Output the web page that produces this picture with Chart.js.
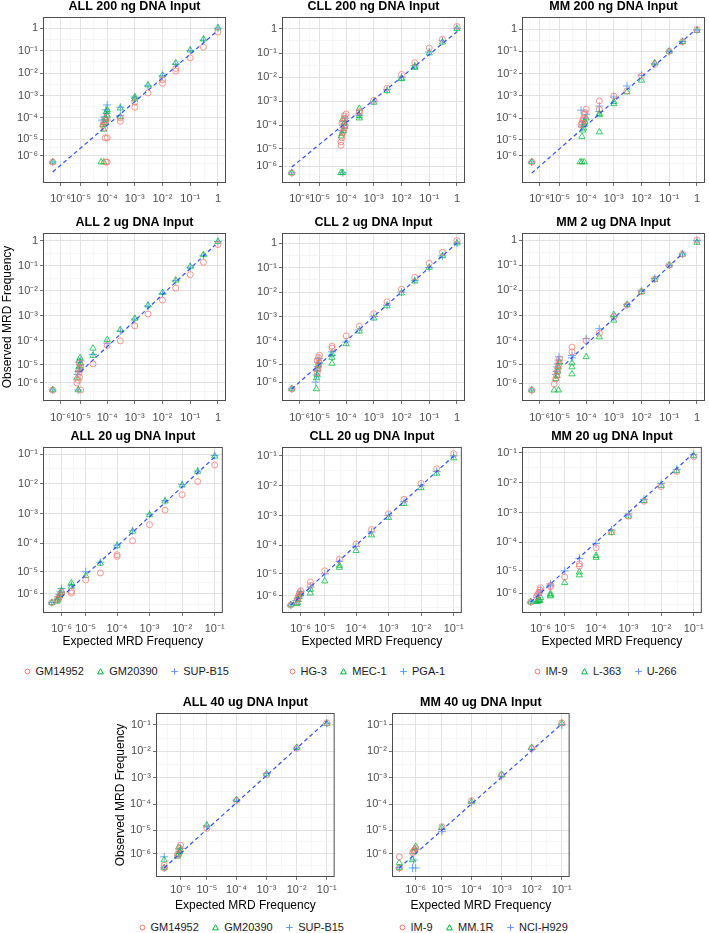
<!DOCTYPE html>
<html>
<head>
<meta charset="utf-8">
<script src="https://cdn.jsdelivr.net/npm/chart.js@4.4.1/dist/chart.umd.min.js"></script>
<style>
  body { margin: 0; width: 709px; height: 933px; position: relative; overflow: hidden; background: #fff;
         font-family: "Liberation Sans", Arial, sans-serif; }
  canvas { position: absolute; }
  .legend { position: absolute; display: flex; align-items: center; height: 14px; font-size: 11px; color: #1a1a1a; white-space: nowrap; }
  .legend .item { display: flex; align-items: center; margin-right: 13.5px; }
  .legend svg { width: 7px; height: 7px; }
  .legend span { margin-left: 5px; }
</style>
</head>
<body>
<script>
// ---- data: [expected, observed] pairs per cell line ----
const all200Red = [[0,0],[9e-5,0],[1e-4,0],[7e-5,4.5e-5],[8e-5,3.5e-5],[8.5e-5,6e-5],[9e-5,8e-5],[9.5e-5,1.1e-4],[8.5e-5,1.2e-5],[1e-4,1.2e-5],[3e-4,1e-4],[3e-4,7e-5],[1e-3,5e-4],[1e-3,3e-4],[3e-3,1.3e-3],[1e-2,5e-3],[1e-2,3.5e-3],[3e-2,1.6e-2],[3e-2,1.2e-2],[0.1,0.047],[0.3,0.14],[1,0.66]];
const all200Green = [[0,0],[6e-5,0],[7.5e-5,0],[7e-5,5e-5],[8e-5,6e-5],[8.5e-5,1e-4],[9e-5,8e-5],[9.5e-5,1.9e-4],[1e-4,2.3e-4],[1e-4,1.3e-4],[7.5e-5,3e-5],[3e-4,2.7e-4],[3e-4,1.1e-4],[1e-3,8.5e-4],[1e-3,7e-4],[3e-3,2.9e-3],[1e-2,8e-3],[3e-2,2.8e-2],[0.1,0.105],[0.3,0.32],[1,1.0]];
const all200Blue = [[0,0],[6.5e-5,8e-5],[7.5e-5,6.5e-5],[8e-5,1.1e-4],[9e-5,2.3e-4],[9.5e-5,1.6e-4],[1e-4,3.8e-4],[1e-4,8e-5],[3e-4,3e-4],[3e-4,1.3e-4],[1e-3,8.5e-4],[3e-3,2.7e-3],[1e-2,7.5e-3],[3e-2,2.5e-2],[0.1,0.1],[0.3,0.29],[1,1.0]];
const all200Fit = [[0,-7e-7],[0.85,0.66]];

const cll200Red = [[0,0],[6.5e-5,1.4e-5],[6.5e-5,2e-5],[7e-5,3e-5],[7.5e-5,5e-5],[8e-5,6e-5],[8.5e-5,8e-5],[9e-5,1e-4],[7e-5,1.2e-4],[8e-5,1.5e-4],[9e-5,2e-4],[8.5e-5,2.5e-4],[1e-4,3e-4],[3e-4,3.5e-4],[3e-4,4e-4],[1e-3,1.1e-3],[3e-3,3.5e-3],[1e-2,1.3e-2],[3e-2,4e-2],[0.1,0.16],[0.3,0.37],[1,1.25]];
const cll200Green = [[0,0],[6.5e-5,0],[7.5e-5,0],[6.5e-5,3.5e-5],[7e-5,4.5e-5],[8e-5,6e-5],[9e-5,9e-5],[8.5e-5,1.2e-4],[7.5e-5,1.8e-4],[3e-4,5e-4],[3e-4,2.5e-4],[3e-4,2e-4],[1e-3,9e-4],[3e-3,2.7e-3],[1e-2,9e-3],[1e-2,8.5e-3],[3e-2,2.8e-2],[3e-2,2.5e-2],[0.1,0.1],[0.3,0.28],[1,1.0]];
const cll200Blue = [[0,0],[7.5e-5,0],[7e-5,6e-5],[8e-5,8e-5],[8.5e-5,1.1e-4],[9e-5,1.5e-4],[9.5e-5,2e-4],[3e-4,3e-4],[3e-4,2.6e-4],[1e-3,1e-3],[3e-3,3e-3],[1e-2,1e-2],[3e-2,3e-2],[0.1,0.11],[0.3,0.32],[1,1.05]];
const cll200Fit = [[0,8e-7],[1,0.76]];

const mm200Red = [[0,0],[6.5e-5,5e-5],[7e-5,6e-5],[7.5e-5,8e-5],[8e-5,1e-4],[8.5e-5,1.5e-4],[9e-5,1.8e-4],[1e-4,2.5e-4],[3e-4,6e-4],[3e-4,2.5e-4],[1e-3,1e-3],[3e-3,1.7e-3],[1e-2,8e-3],[3e-2,2.6e-2],[0.1,0.1],[0.3,0.27],[1,0.95]];
const mm200Green = [[0,0],[6e-5,0],[7e-5,0],[8.5e-5,0],[7e-5,1.4e-5],[7.5e-5,2.8e-5],[8e-5,3.5e-5],[8.5e-5,5e-5],[9e-5,7e-5],[1e-4,1e-4],[3e-4,2.3e-5],[3e-4,1.6e-4],[3e-4,1.4e-4],[1e-3,4.4e-4],[1e-3,5.5e-4],[3e-3,1.5e-3],[1e-2,5e-3],[3e-2,3e-2],[0.1,0.1],[0.3,0.27],[1,0.85]];
const mm200Blue = [[0,0],[6.5e-5,2.3e-4],[7e-5,4e-5],[7.5e-5,5e-5],[8e-5,7e-5],[9e-5,1e-4],[1e-4,1.5e-4],[3e-4,3.5e-4],[3e-4,2e-4],[1e-3,9e-4],[3e-3,2.8e-3],[1e-2,8.5e-3],[3e-2,2.8e-2],[0.1,0.1],[0.3,0.28],[1,0.9]];
const mm200Fit = [[0,-7.5e-7],[0.78,0.81]];

const all2Red = [[0,0],[1e-5,0],[7e-6,1e-6],[8e-6,1.6e-6],[9e-6,2.5e-6],[8.5e-6,4e-6],[9.5e-6,6e-6],[1e-5,8e-6],[9e-6,1.2e-5],[3e-5,1.1e-5],[1e-4,6.5e-5],[3e-4,1e-4],[1e-3,4e-4],[3e-3,1.2e-3],[1e-2,4.3e-3],[3e-2,1.3e-2],[0.1,0.045],[0.3,0.14],[1,0.72]];
const all2Green = [[0,0],[8e-6,0],[7e-6,2.2e-6],[8e-6,6e-6],[9e-6,9e-6],[1e-5,1.2e-5],[8.5e-6,1.5e-5],[9.5e-6,2e-5],[3e-5,5e-5],[3e-5,2.5e-5],[1e-4,1.1e-4],[3e-4,2.8e-4],[1e-3,8e-4],[3e-3,2.7e-3],[1e-2,8.5e-3],[3e-2,2.7e-2],[0.1,0.095],[0.3,0.28],[1,0.95]];
const all2Blue = [[0,0],[8e-6,0],[7.5e-6,3.5e-6],[8.5e-6,5e-6],[9e-6,7e-6],[9.5e-6,1e-5],[1e-5,1.5e-5],[3e-5,2.8e-5],[1e-4,8e-5],[3e-4,2.5e-4],[1e-3,7.5e-4],[3e-3,2.5e-3],[1e-2,8e-3],[3e-2,2.6e-2],[0.1,0.09],[0.3,0.27],[1,0.95]];
const all2Fit = [[1e-5,4.8e-6],[0.8,0.7]];

const cll2Red = [[0,0],[8e-6,4e-6],[8.5e-6,6e-6],[9e-6,9e-6],[9.5e-6,1.2e-5],[8e-6,1.5e-5],[9e-6,2e-5],[1e-5,2.5e-5],[3e-5,6e-5],[3e-5,5e-5],[1e-4,1.6e-4],[3e-4,4e-4],[1e-3,1.3e-3],[3e-3,4e-3],[1e-2,1.3e-2],[3e-2,4e-2],[0.1,0.15],[0.3,0.42],[1,1.25]];
const cll2Green = [[0,0],[7.4e-6,0],[7.5e-6,2e-6],[8e-6,3e-6],[8.5e-6,6e-6],[9e-6,9e-6],[1e-5,1.3e-5],[3e-5,1.1e-5],[3e-5,2e-5],[3e-5,2.8e-5],[1e-4,7.5e-5],[3e-4,2.5e-4],[1e-3,8.5e-4],[3e-3,2.7e-3],[1e-2,9e-3],[3e-2,2.8e-2],[0.1,0.1],[0.3,0.3],[1,1.0]];
const cll2Blue = [[0,0],[7e-6,1e-6],[7.5e-6,3e-6],[8e-6,5e-6],[8.5e-6,8e-6],[9e-6,1.2e-5],[9.5e-6,1.8e-5],[3e-5,3.5e-5],[3e-5,2.5e-5],[1e-4,9e-5],[3e-4,2.8e-4],[1e-3,1e-3],[3e-3,2.9e-3],[1e-2,1e-2],[3e-2,3e-2],[0.1,0.1],[0.3,0.3],[1,1.0]];
const cll2Fit = [[0,0],[1,1]];

const mm2Red = [[0,0],[6e-6,8e-7],[7e-6,2e-6],[7.5e-6,3e-6],[8e-6,5e-6],[8.5e-6,7e-6],[9e-6,1e-5],[9.5e-6,1.3e-5],[1e-5,1.8e-5],[3e-5,5.5e-5],[3e-5,3.5e-5],[1e-4,1e-4],[3e-4,2e-4],[1e-3,9e-4],[3e-3,2.6e-3],[1e-2,9e-3],[3e-2,2.8e-2],[0.1,0.1],[0.3,0.28],[1,1.0]];
const mm2Green = [[0,0],[6e-6,0],[9e-6,0],[7e-6,2e-6],[8e-6,3e-6],[8.5e-6,5e-6],[9e-6,8e-6],[1e-5,1.3e-5],[3e-5,3.7e-6],[3e-5,8e-6],[3e-5,1.2e-5],[1e-4,2.2e-5],[3e-4,1.4e-4],[1e-3,6.5e-4],[1e-3,1.1e-3],[3e-3,2.7e-3],[1e-2,9e-3],[3e-2,2.7e-2],[0.1,0.1],[0.3,0.27],[1,0.8]];
const mm2Blue = [[0,0],[7e-6,3.5e-6],[7.5e-6,5e-6],[8e-6,8e-6],[8.5e-6,1.1e-5],[9e-6,1.6e-5],[9.5e-6,2.2e-5],[3e-5,2.5e-5],[3e-5,2e-5],[1e-4,1.2e-4],[3e-4,3e-4],[1e-3,9e-4],[3e-3,2.8e-3],[1e-2,9.5e-3],[3e-2,3e-2],[0.1,0.1],[0.3,0.28],[1,0.95]];
const mm2Fit = [[1.7e-5,1.1e-5],[0.29,0.28]];

const all20Red = [[0,0],[5e-7,3e-7],[7e-7,5e-7],[8e-7,8e-7],[1e-6,1.2e-6],[3e-6,1.1e-6],[3e-6,1.4e-6],[1e-5,4.8e-6],[3e-5,9e-6],[1e-4,4e-5],[1e-4,3.5e-5],[3e-4,1.2e-4],[1e-3,4.2e-4],[3e-3,1.3e-3],[1e-2,4.3e-3],[3e-2,1.2e-2],[0.1,0.043]];
const all20Green = [[0,0],[4e-7,1e-7],[5e-7,2e-7],[6e-7,4e-7],[7e-7,7e-7],[8e-7,1e-6],[1e-6,1.5e-6],[3e-6,3.6e-6],[3e-6,2.5e-6],[1e-5,7e-6],[3e-5,2e-5],[1e-4,8e-5],[3e-4,2.5e-4],[1e-3,9e-4],[3e-3,2.6e-3],[1e-2,9e-3],[3e-2,2.6e-2],[0.1,0.085]];
const all20Blue = [[0,0],[5e-7,3e-7],[6e-7,6e-7],[7e-7,9e-7],[8e-7,1.3e-6],[1e-6,2e-6],[3e-6,2.8e-6],[1e-5,1e-5],[3e-5,2.2e-5],[1e-4,8.5e-5],[3e-4,2.6e-4],[1e-3,9.5e-4],[3e-3,2.7e-3],[1e-2,9.5e-3],[3e-2,2.7e-2],[0.1,0.09]];
const all20Fit = [[1e-6,5.5e-7],[0.1,0.079]];

const cll20Red = [[0,0],[5e-7,3e-7],[6e-7,6e-7],[7e-7,9e-7],[8e-7,1.2e-6],[9e-7,1.6e-6],[1e-6,2e-6],[3e-6,4.9e-6],[3e-6,3.5e-6],[1e-5,1.3e-5],[3e-5,3.3e-5],[1e-4,1.1e-4],[3e-4,3.4e-4],[1e-3,1.15e-3],[3e-3,3.5e-3],[1e-2,1.2e-2],[3e-2,3.7e-2],[0.1,0.12]];
const cll20Green = [[0,0],[5e-7,1e-7],[6e-7,2e-7],[7e-7,5e-7],[8e-7,9e-7],[1e-6,1.3e-6],[3e-6,1.5e-6],[3e-6,2.3e-6],[1e-5,5.3e-6],[3e-5,1.7e-5],[3e-5,2e-5],[1e-4,6.5e-5],[3e-4,2.2e-4],[1e-3,8.5e-4],[3e-3,2.5e-3],[1e-2,8.5e-3],[3e-2,2.6e-2],[0.1,0.085]];
const cll20Blue = [[0,0],[5e-7,4e-7],[6e-7,7e-7],[8e-7,1e-6],[9e-7,1.3e-6],[1e-6,1.8e-6],[3e-6,3e-6],[1e-5,1e-5],[3e-5,2.8e-5],[1e-4,9e-5],[3e-4,2.8e-4],[1e-3,1e-3],[3e-3,2.9e-3],[1e-2,1e-2],[3e-2,3e-2],[0.1,0.1]];
const cll20Fit = [[0,0],[0.1,0.1]];

const mm20Red = [[0,0],[5e-7,5e-7],[6e-7,8e-7],[8e-7,1.1e-6],[9e-7,1.5e-6],[1e-6,2e-6],[3e-6,2.2e-6],[3e-6,2.6e-6],[1e-5,5.9e-6],[3e-5,1.8e-5],[3e-5,1.5e-5],[1e-4,6.5e-5],[3e-4,2.2e-4],[1e-3,7.5e-4],[3e-3,2.4e-3],[1e-2,7.5e-3],[3e-2,2.4e-2],[0.1,0.075]];
const mm20Green = [[0,0],[5e-7,3e-8],[6e-7,5e-8],[7e-7,1e-7],[8e-7,2e-7],[9e-7,1e-7],[1e-6,4e-7],[3e-6,5.8e-7],[3e-6,7e-7],[3e-6,9e-7],[1e-5,3.4e-6],[3e-5,7e-6],[3e-5,9e-6],[1e-4,3e-5],[1e-4,3.5e-5],[3e-4,2.1e-4],[1e-3,7.5e-4],[3e-3,2.5e-3],[1e-2,8e-3],[3e-2,2.5e-2],[0.1,0.08]];
const mm20Blue = [[0,0],[6e-7,4e-7],[7e-7,7e-7],[8e-7,1e-6],[1e-6,1.5e-6],[3e-6,2.5e-6],[3e-6,3e-6],[1e-5,1e-5],[3e-5,2.8e-5],[1e-4,9e-5],[3e-4,2.6e-4],[1e-3,9e-4],[3e-3,2.8e-3],[1e-2,9.5e-3],[3e-2,2.8e-2],[0.1,0.09]];
const mm20Fit = [[0,0],[0.1,0.1]];

const all40Red = [[0,0],[0,1e-7],[7e-7,8e-7],[8e-7,1e-6],[9e-7,1.8e-6],[1e-6,2.5e-6],[1e-5,1.2e-5],[1e-4,1.4e-4],[1e-3,1.3e-3],[1e-2,1.3e-2],[0.1,0.12]];
const all40Green = [[0,0],[0,4e-7],[7e-7,7e-7],[8e-7,9e-7],[9e-7,1.2e-6],[1e-6,1.5e-6],[8e-7,2e-6],[1e-5,1.6e-5],[1e-4,1.5e-4],[1e-3,1.4e-3],[1e-2,1.4e-2],[0.1,0.11]];
const all40Blue = [[0,0],[0,6.5e-7],[8e-7,1e-6],[9e-7,1.3e-6],[1e-6,1.8e-6],[1e-5,1.5e-5],[1e-4,1.45e-4],[1e-3,1.45e-3],[1e-2,1.35e-2],[0.1,0.115]];
const all40Fit = [[0,0],[0.1,0.14]];

const mm40Red = [[0,0],[0,6.5e-7],[7e-7,1.1e-6],[8e-7,1.3e-6],[9e-7,1.5e-6],[1e-6,1.8e-6],[1e-5,1.4e-5],[1e-4,1.4e-4],[1e-3,1.3e-3],[1e-2,1.3e-2],[0.1,0.12]];
const mm40Green = [[0,0],[0,2.2e-7],[7e-7,4e-7],[8e-7,1.2e-6],[9e-7,1.7e-6],[1e-6,2.2e-6],[1e-5,1.3e-5],[1e-4,1.25e-4],[1e-3,1.35e-3],[1e-2,1.4e-2],[0.1,0.115]];
const mm40Blue = [[0,0],[7e-7,0],[1e-6,0],[8e-7,4e-7],[1e-6,1.6e-6],[1e-5,1.1e-5],[1e-5,9e-6],[1e-4,1.2e-4],[1e-3,1.15e-3],[1e-2,1.2e-2],[0.1,0.1]];
const mm40Fit = [[0,0],[0.1,0.11]];

// tick exponents and legend labels
const EXP_WIDE = [-6, -5, -4, -3, -2, -1, 0];
const EXP_NARROW = [-6, -5, -4, -3, -2, -1];
const allLines = ['GM14952', 'GM20390', 'SUP-B15'];
const cllLines = ['HG-3', 'MEC-1', 'PGA-1'];
const mmLines = ['IM-9', 'L-363', 'U-266'];
const mm40Lines = ['IM-9', 'MM.1R', 'NCI-H929'];

const RED = 'rgba(248,118,109,0.85)';
const GREEN = 'rgba(0,186,56,0.85)';
const BLUE = 'rgba(97,156,255,0.9)';
const LEG_COLORS = ['#F8766D', '#00BA38', '#619CFF'];

// panel layout (plot area box in page pixels, transformed axis ranges)
const panels = [
  { title: 'ALL 200 ng DNA Input', box: [43, 17, 228, 183], c: 1.1e-6, xr: [-6.31, 0.29], yr: [-6.89, 0.49], xe: EXP_WIDE, xh: 22, xpad: 6, sets: [all200Red, all200Green, all200Blue], fit: all200Fit },
  { title: 'CLL 200 ng DNA Input', box: [282, 17, 467, 183], c: 1.1e-6, xr: [-6.31, 0.29], yr: [-6.38, 0.49], xe: EXP_WIDE, xh: 22, xpad: 6, sets: [cll200Red, cll200Green, cll200Blue], fit: cll200Fit },
  { title: 'MM 200 ng DNA Input', box: [522, 17, 707, 183], c: 1.1e-6, xr: [-6.31, 0.29], yr: [-6.9, 0.54], xe: EXP_WIDE, xh: 22, xpad: 6, sets: [mm200Red, mm200Green, mm200Blue], fit: mm200Fit },
  { title: 'ALL 2 ug DNA Input', box: [43, 233, 228, 401], c: 1.1e-6, xr: [-6.31, 0.29], yr: [-6.4, 0.32], xe: EXP_WIDE, xh: 22, xpad: 7, yTitle: true, sets: [all2Red, all2Green, all2Blue], fit: all2Fit },
  { title: 'CLL 2 ug DNA Input', box: [282, 233, 467, 401], c: 1.1e-6, xr: [-6.31, 0.29], yr: [-6.45, 0.41], xe: EXP_WIDE, xh: 22, xpad: 7, sets: [cll2Red, cll2Green, cll2Blue], fit: cll2Fit },
  { title: 'MM 2 ug DNA Input', box: [522, 233, 707, 401], c: 1.1e-6, xr: [-6.31, 0.29], yr: [-6.39, 0.28], xe: EXP_WIDE, xh: 22, xpad: 7, sets: [mm2Red, mm2Green, mm2Blue], fit: mm2Fit },
  { title: 'ALL 20 ug DNA Input', box: [43, 447, 228, 613], c: 1e-6, xr: [-6.27, -0.75], yr: [-6.35, -0.76], xe: EXP_NARROW, xh: 37, xpad: 6, xTitle: true, sets: [all20Red, all20Green, all20Blue], fit: all20Fit },
  { title: 'CLL 20 ug DNA Input', box: [282, 447, 467, 613], c: 1e-6, xr: [-6.27, -0.75], yr: [-6.27, -0.70], xe: EXP_NARROW, xh: 37, xpad: 6, xTitle: true, sets: [cll20Red, cll20Green, cll20Blue], fit: cll20Fit },
  { title: 'MM 20 ug DNA Input', box: [522, 447, 707, 613], c: 1e-6, xr: [-6.27, -0.75], yr: [-6.37, -0.80], xe: EXP_NARROW, xh: 37, xpad: 6, xTitle: true, sets: [mm20Red, mm20Green, mm20Blue], fit: mm20Fit },
  { title: 'ALL 40 ug DNA Input', box: [156, 713, 337, 877], c: 4e-7, xr: [-6.67, -0.74], yr: [-6.74, -0.55], xe: EXP_NARROW, xh: 37, xpad: 3, xTitle: true, yTitle: true, sets: [all40Red, all40Green, all40Blue], fit: all40Fit },
  { title: 'MM 40 ug DNA Input', box: [392, 713, 572, 877], c: 4e-7, xr: [-6.64, -0.74], yr: [-6.74, -0.55], xe: EXP_NARROW, xh: 37, xpad: 3, xTitle: true, sets: [mm40Red, mm40Green, mm40Blue], fit: mm40Fit },
];

const legends = [
  { names: allLines, x: 27, y: 671 },
  { names: cllLines, x: 292, y: 671 },
  { names: mmLines, x: 537, y: 671 },
  { names: allLines, x: 142, y: 927 },
  { names: mm40Lines, x: 402, y: 927 },
];

Chart.defaults.font.family = '"Liberation Sans", Arial, sans-serif';
Chart.defaults.animation = false;
Chart.defaults.events = [];

const SUP = { '-': '\u207B', '0': '\u2070', '1': '\u00B9', '2': '\u00B2', '3': '\u00B3', '4': '\u2074', '5': '\u2075', '6': '\u2076', '7': '\u2077', '8': '\u2078', '9': '\u2079' };
const expLabel = k => k === 0 ? '1' : '10' + String(k).split('').map(ch => SUP[ch]).join('');

// major ticks at 10^k, minor gridlines half way between (ggplot style)
function buildTicks(exps, c, lo, hi) {
  const maj = exps.map(k => Math.log10(Math.pow(10, k) + c));
  const out = maj.map((v, i) => ({ value: v, mj: true, txt: expLabel(exps[i]) }));
  const n = maj.length;
  const ext = [2 * maj[0] - maj[1], ...maj, 2 * maj[n - 1] - maj[n - 2]];
  for (let i = 0; i < ext.length - 1; i++) {
    out.push({ value: (ext[i] + ext[i + 1]) / 2, mj: false, txt: '' });
  }
  return out.filter(t => t.value >= lo && t.value <= hi).sort((a, b) => a.value - b.value);
}

const panelFrame = {
  id: 'panelFrame',
  afterDraw(chart) {
    const a = chart.chartArea, ctx = chart.ctx;
    ctx.save();
    ctx.strokeStyle = '#4d4d4d';
    ctx.lineWidth = 1;
    ctx.strokeRect(a.left + 0.5, a.top + 0.5, a.width - 1, a.height - 1);
    ctx.restore();
  }
};

const gridOpts = {
  color: c => (c.tick && c.tick.mj) ? '#e2e2e2' : '#f0f0f0',
  lineWidth: c => (c.tick && c.tick.mj) ? 1 : 0.6,
  tickColor: c => (c.tick && c.tick.mj) ? '#4d4d4d' : 'rgba(0,0,0,0)',
  tickLength: 3,
  tickWidth: 0.8
};

function makePanel(p) {
  const axisW = 43, titleH = 18;
  const plotW = p.box[2] - p.box[0], plotH = p.box[3] - p.box[1];
  const W = axisW + plotW + 3, H = titleH + plotH + p.xh;
  const cv = document.createElement('canvas');
  cv.width = W; cv.height = H;
  cv.style.left = (p.box[0] - axisW) + 'px';
  cv.style.top = (p.box[1] - titleH) + 'px';
  cv.style.width = W + 'px';
  cv.style.height = H + 'px';
  document.body.appendChild(cv);

  // pseudo-log transform so that zero counts stay on the chart
  const tr = v => Math.log10(v + p.c);
  const pts = arr => arr.map(([x, y]) => ({ x: tr(x), y: tr(y) }));
  const styles = [
    { pointStyle: 'circle', pointRadius: 3, pointBorderWidth: 0.9, color: RED },
    { pointStyle: 'triangle', pointRadius: 3.6, pointBorderWidth: 0.9, color: GREEN },
    { pointStyle: 'cross', pointRadius: 4, pointBorderWidth: 1, color: BLUE },
  ];

  const datasets = [{
    type: 'line',
    data: pts(p.fit),
    borderColor: '#2f50ff',
    borderWidth: 1.2,
    borderDash: [4, 3],
    pointRadius: 0,
    fill: false
  }];
  p.sets.forEach((s, i) => {
    const st = styles[i];
    datasets.push({
      data: pts(s),
      pointStyle: st.pointStyle,
      pointRadius: st.pointRadius,
      pointBorderWidth: st.pointBorderWidth,
      pointBorderColor: st.color,
      pointBackgroundColor: 'rgba(0,0,0,0)',
      showLine: false,
      clip: false
    });
  });

  new Chart(cv, {
    type: 'scatter',
    data: { datasets },
    options: {
      responsive: false,
      devicePixelRatio: 1,
      layout: { padding: { left: 0, right: 3, top: 0, bottom: 0 } },
      plugins: {
        legend: { display: false },
        tooltip: { enabled: false },
        title: {
          display: true, text: p.title, color: '#000', fullSize: false,
          font: { size: 12.5, weight: 'bold', lineHeight: 1.2 },
          padding: { top: 0, bottom: 3 }
        }
      },
      scales: {
        x: {
          type: 'linear', min: p.xr[0], max: p.xr[1],
          afterBuildTicks: ax => { ax.ticks = buildTicks(p.xe, p.c, p.xr[0], p.xr[1]); },
          afterFit: ax => { ax.height = p.xh; },
          ticks: { autoSkip: false, maxRotation: 0, minRotation: 0, color: '#4d4d4d', font: { size: 11 }, padding: p.xpad,
                   callback: (v, i, t) => t[i].txt },
          grid: gridOpts,
          border: { display: false },
          title: { display: !!p.xTitle, text: 'Expected MRD Frequency', color: '#000', font: { size: 12 }, padding: { top: 0, bottom: 1 } }
        },
        y: {
          type: 'linear', min: p.yr[0], max: p.yr[1],
          afterBuildTicks: ax => { ax.ticks = buildTicks(p.xe, p.c, p.yr[0], p.yr[1]); },
          afterFit: ax => { ax.width = axisW; },
          ticks: { autoSkip: false, color: '#4d4d4d', font: { size: 11 }, padding: 2,
                   callback: (v, i, t) => t[i].txt },
          grid: gridOpts,
          border: { display: false },
          title: { display: !!p.yTitle, text: 'Observed MRD Frequency', color: '#000', font: { size: 12 }, padding: { top: 0, bottom: 0 } }
        }
      }
    },
    plugins: [panelFrame]
  });
}

function symbolSvg(i) {
  const col = LEG_COLORS[i];
  if (i === 0) return `<svg viewBox="0 0 7 7"><circle cx="3.5" cy="3.5" r="2.4" fill="none" stroke="${col}" stroke-width="1"/></svg>`;
  if (i === 1) return `<svg viewBox="0 0 7 7"><polygon points="3.5,0.7 6.4,5.9 0.6,5.9" fill="none" stroke="${col}" stroke-width="1"/></svg>`;
  return `<svg viewBox="0 0 7 7"><path d="M3.5 0.2V6.8M0.2 3.5H6.8" stroke="${col}" stroke-width="1.1"/></svg>`;
}

function makeLegend(lg) {
  const div = document.createElement('div');
  div.className = 'legend';
  div.style.left = (lg.x - 3.5) + 'px';
  div.style.top = (lg.y - 7) + 'px';
  div.innerHTML = lg.names.map((n, i) => `<div class="item">${symbolSvg(i)}<span>${n}</span></div>`).join('');
  document.body.appendChild(div);
}

panels.forEach(makePanel);
legends.forEach(makeLegend);
</script>
</body>
</html>
